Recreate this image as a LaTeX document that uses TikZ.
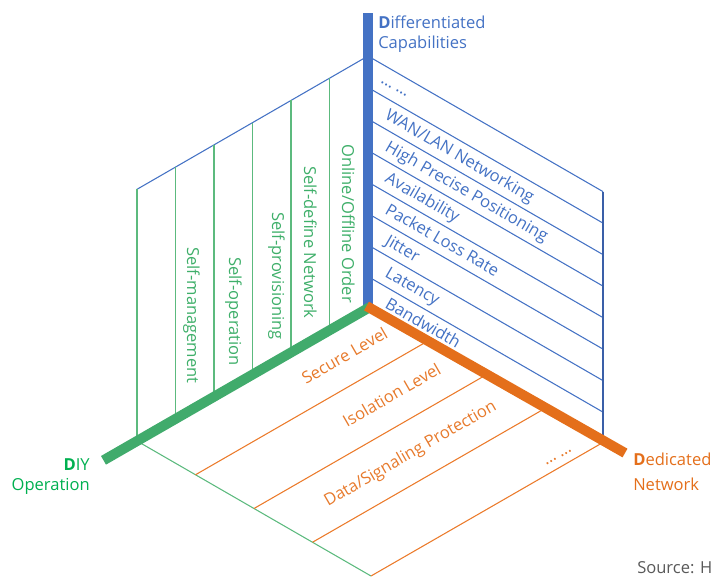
\documentclass[tikz,border=0pt]{standalone}
\usepackage{fontspec}
\setmainfont{Open Sans}
\definecolor{cblue}{HTML}{4472C4}
\definecolor{cbluedark}{HTML}{3A5FA8}
\definecolor{cgreenbar}{HTML}{41AB6C}
\definecolor{cgreenline}{HTML}{5CBA7E}
\definecolor{cgreentext}{HTML}{3FAF6A}
\definecolor{cdiy}{HTML}{00B050}
\definecolor{corange}{HTML}{E46F1B}
\definecolor{corangeline}{HTML}{EB7A2A}
\definecolor{corangetext}{HTML}{E77A2C}
\definecolor{cgraytext}{HTML}{595959}
\begin{document}
\begin{tikzpicture}[x=0.75pt,y=-0.75pt,
  bline/.style={draw=cblue, line width=0.8pt},
  bedge/.style={draw=cbluedark, line width=0.8pt},
  gline/.style={draw=cgreenline, line width=0.8pt},
  oline/.style={draw=corangeline, line width=0.8pt},
  bar/.style={line width=7.5pt},
  lbl/.style={inner sep=0pt, font=\fontsize{12.4}{15}\selectfont},
  rtext/.style={lbl, text=cblue, anchor=base west, rotate=-30},
  ltext/.style={lbl, text=cgreentext, anchor=base west, rotate=-90},
  otext/.style={lbl, text=corangetext, anchor=base west, rotate=30}]
\useasboundingbox (0,0) rectangle (711,576);
\clip (0,0) rectangle (711,576);
\coordinate (O) at (368,308);
% right panel (blue)
\foreach \k in {0,...,7} \draw[bline] (368,{56+31.5*\k}) -- ++(235,135.6);
\coordinate (RT) at (603,191.6);
\coordinate (RB) at (603,443.6);
\draw[bedge] (RT) -- (RB);
% left panel (green)
\coordinate (LT) at (137,189.3);
\draw[bline] (368,56) -- (LT);
\foreach \k in {1,...,6} \draw[gline] ({368-38.5*\k},{56+22.17*\k}) -- ++(0,252);
% bottom panel (orange)
\coordinate (BL) at (137,441);
\coordinate (BB) at (371,576);
\coordinate (BR) at (602,443);
\draw[gline] (BL) -- (BB);
\draw[oline] (BB) -- (BR);
\foreach \k in {1,2,3} \draw[oline] ({137+58.5*\k},{441+33.75*\k}) -- ++(231,-133);
% axes
\draw[bar, cblue] (368,13) -- (368,312);
\draw[bar, cgreenbar] (370,307) -- (103.5,460.3);
\draw[bar, corange] (366.5,306) -- (625,453);
% right panel texts
\node[rtext] (r0) at (380,82) {… …};
\node[rtext] (r1) at (384,118.5) {WAN/LAN Networking};
\node[rtext] (r2) at (384,150) {High Precise Positioning};
\node[rtext] (r3) at (384,181.5) {Availability};
\node[rtext] (r4) at (384,213) {Packet Loss Rate};
\node[rtext] (r5) at (384,244.5) {Jitter};
\node[rtext] (r6) at (384,276) {Latency};
\node[rtext] (r7) at (384,307) {Bandwidth};
% left panel texts
\node[ltext] (l1) at (342,144) {Online/Offline Order};
\node[ltext] (l2) at (304,166) {Self-define Network};
\node[ltext] (l3) at (272,212) {Self-provisioning};
\node[ltext] (l4) at (229,257) {Self-operation};
\node[ltext] (l5) at (187,247) {Self-management};
% bottom panel texts
\node[otext] (o1) at (306,385) {Secure Level};
\node[otext] (o2) at (347,428) {Isolation Level};
\node[otext] (o3) at (328,507) {Data/Signaling Protection};
\node[otext] (o4) at (546,466) {… …};
% axis labels
\node[lbl, text=cblue, anchor=base west] (dc1) at (378,28) {\textbf{D}ifferentiated};
\node[lbl, text=cblue, anchor=base west] (dc2) at (378,48) {Capabilities};
\node[lbl, text=cdiy, anchor=base east] (diy1) at (90,470) {\textbf{D}IY};
\node[lbl, text=cdiy, anchor=base east] (diy2) at (90,490) {Operation};
\node[lbl, text=corange, anchor=base west] (dn1) at (633,465) {\textbf{D}edicated};
\node[lbl, text=corange, anchor=base west] (dn2) at (633,490) {Network};
\node[lbl, text=cgraytext, anchor=base west] (src) at (637,573) {Source: Huawei};
\end{tikzpicture}
\end{document}
